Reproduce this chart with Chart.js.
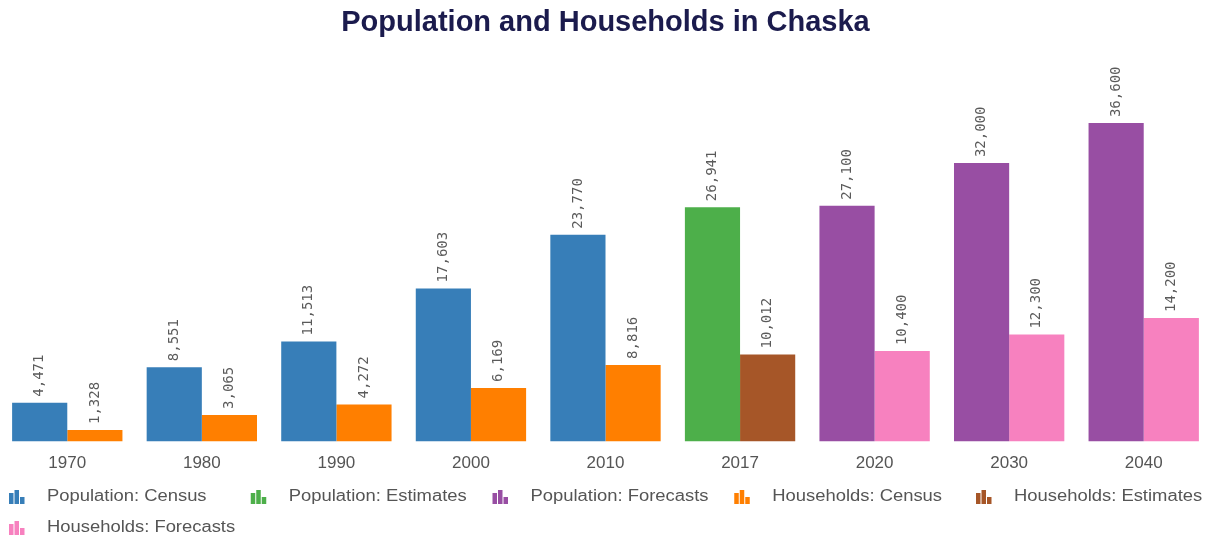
<!DOCTYPE html>
<html>
<head>
<meta charset="utf-8">
<script src="https://cdn.jsdelivr.net/npm/chart.js@4/dist/chart.umd.min.js"></script>
<style>
  html, body { margin: 0; padding: 0; background: #fff; }
  #wrap { width: 1211px; height: 542px; position: relative; }
</style>
</head>
<body>
<div id="wrap"><canvas id="chart"></canvas></div>
<script>
// categories
const years = ['1970', '1980', '1990', '2000', '2010', '2017', '2020', '2030', '2040'];

// population
const popCensus    = [4471, 8551, 11513, 17603, 23770, null, null, null, null];
const popEstimates = [null, null, null, null, null, 26941, null, null, null];
const popForecasts = [null, null, null, null, null, null, 27100, 32000, 36600];

// households
const hhCensus    = [1328, 3065, 4272, 6169, 8816, null, null, null, null];
const hhEstimates = [null, null, null, null, null, 10012, null, null, null];
const hhForecasts = [null, null, null, null, null, null, 10400, 12300, 14200];

const colors = {
  blue: '#377eb8',
  green: '#4daf4a',
  purple: '#984ea3',
  orange: '#ff7f00',
  brown: '#a65628',
  pink: '#f781bf'
};

function ds(label, data, color, stack) {
  return {
    label: label,
    data: data,
    backgroundColor: color,
    borderWidth: 0,
    stack: stack,
    categoryPercentage: 0.82,
    barPercentage: 1.0
  };
}

// value labels, rotated, above each bar
const barLabels = {
  id: 'barLabels',
  afterDatasetsDraw(chart) {
    const ctx = chart.ctx;
    ctx.save();
    ctx.font = '14px "DejaVu Sans Mono", monospace';
    ctx.fillStyle = '#5a5a5a';
    ctx.textAlign = 'left';
    ctx.textBaseline = 'middle';
    chart.data.datasets.forEach((d, i) => {
      const meta = chart.getDatasetMeta(i);
      meta.data.forEach((bar, j) => {
        const v = d.data[j];
        if (v === null || v === undefined) return;
        ctx.save();
        ctx.translate(bar.x, bar.y - 6);
        ctx.rotate(-Math.PI / 2);
        ctx.fillText(v.toLocaleString('en-US'), 0, 0);
        ctx.restore();
      });
    });
    ctx.restore();
  }
};

// legend in fixed columns, small bar-chart icons, drawn under the axis
const iconLegend = {
  id: 'iconLegend',
  afterDraw(chart) {
    const ctx = chart.ctx;
    const stretch = 1.15;
    const colW = 241.75;
    const perRow = 5;
    ctx.save();
    ctx.font = '16px Arial, "Liberation Sans"';
    ctx.textBaseline = 'middle';
    chart.data.datasets.forEach((d, i) => {
      const x = 9 + (i % perRow) * colW;
      const y = 497 + Math.floor(i / perRow) * 31;
      // icon: three little bars
      ctx.fillStyle = d.backgroundColor;
      ctx.fillRect(x, y - 4, 4.5, 11);
      ctx.fillRect(x + 5.5, y - 7, 4.5, 14);
      ctx.fillRect(x + 11, y, 4.5, 7);
      // label
      ctx.save();
      ctx.fillStyle = '#555';
      ctx.translate(x + 38, y);
      ctx.scale(stretch, 1);
      ctx.fillText(d.label, 0, 0);
      ctx.restore();
    });
    ctx.restore();
  }
};

new Chart(document.getElementById('chart'), {
  type: 'bar',
  data: {
    labels: years,
    datasets: [
      ds('Population: Census', popCensus, colors.blue, 'pop'),
      ds('Population: Estimates', popEstimates, colors.green, 'pop'),
      ds('Population: Forecasts', popForecasts, colors.purple, 'pop'),
      ds('Households: Census', hhCensus, colors.orange, 'hh'),
      ds('Households: Estimates', hhEstimates, colors.brown, 'hh'),
      ds('Households: Forecasts', hhForecasts, colors.pink, 'hh')
    ]
  },
  options: {
    responsive: true,
    maintainAspectRatio: false,
    animation: false,
    layout: { padding: { top: 0, left: 0, right: 0, bottom: 64 } },
    scales: {
      x: {
        grid: { display: false },
        border: { display: false },
        ticks: { color: '#555', font: { size: 17, family: 'Arial, "Liberation Sans"' }, padding: 4 }
      },
      y: {
        display: false,
        stacked: true,
        min: 0,
        max: 40000
      }
    },
    plugins: {
      title: {
        display: true,
        text: 'Population and Households in Chaska',
        color: '#1b1b4d',
        font: { size: 29, weight: 'bold', family: 'Arial, "Liberation Sans"' },
        padding: { top: 6, bottom: 52.7 }
      },
      legend: { display: false },
      tooltip: { enabled: false }
    }
  },
  plugins: [barLabels, iconLegend]
});
</script>
</body>
</html>
